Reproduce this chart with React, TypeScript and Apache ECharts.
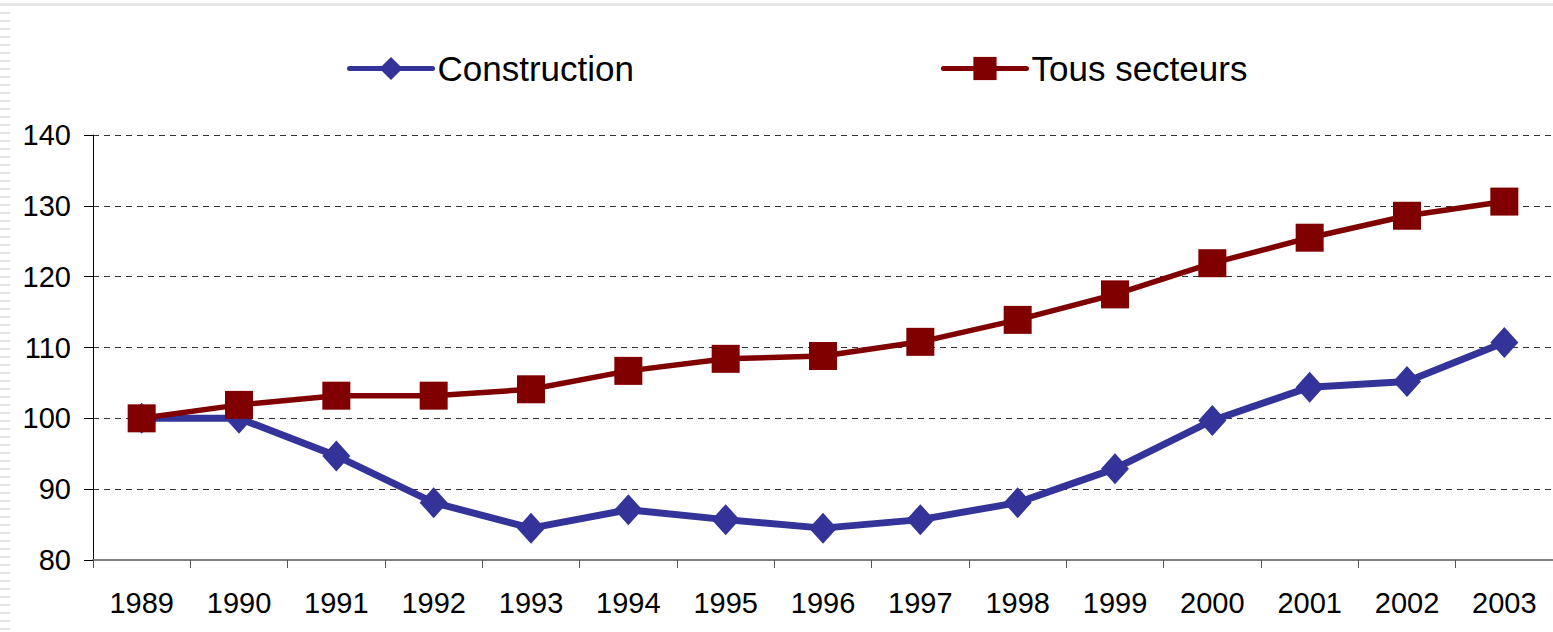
import React, { useEffect, useRef } from "react";
import * as echarts from "echarts";

const years = ["1989", "1990", "1991", "1992", "1993", "1994", "1995", "1996", "1997", "1998", "1999", "2000", "2001", "2002", "2003"];
const construction = [100, 100, 94.7, 88.1, 84.5, 87.1, 85.7, 84.5, 85.7, 88.1, 92.9, 99.7, 104.4, 105.2, 110.7];
const tousSecteurs = [100, 101.9, 103.2, 103.2, 104.1, 106.7, 108.4, 108.8, 110.8, 113.9, 117.5, 121.9, 125.5, 128.6, 130.6];
const seriesNames = ["Construction", "Tous secteurs"];

export default function App() {
  const ref = useRef<HTMLDivElement>(null);
  useEffect(() => {
    document.body.style.margin = "0";
    const chart = echarts.init(ref.current!, null, { renderer: "svg" });
    const stripes: any[] = [];
    for (let y = 12; y < 632; y += 8) {
      stripes.push({
        type: "rect",
        shape: { x: 0, y, width: 10, height: 2 },
        style: { fill: "#e4e4e4" },
        silent: true,
      });
    }
    const font = "Liberation Sans, Arial, sans-serif";
    chart.setOption({
      animation: false,
      backgroundColor: "#ffffff",
      textStyle: { fontFamily: font },
      graphic: [
        { type: "rect", shape: { x: 0, y: 3, width: 1553, height: 3 }, style: { fill: "#e6e6e6" }, silent: true },
        ...stripes,
      ],
      legend: {
        left: 342,
        top: 46,
        itemWidth: 83,
        itemHeight: 29,
        itemGap: 307,
        lineStyle: { width: 5, cap: "round" },
        textStyle: { fontSize: 35, color: "#000", fontFamily: font },
        data: seriesNames,
      },
      grid: { left: 93, right: 0, top: 135, bottom: 72 },
      xAxis: {
        type: "category",
        data: years,
        boundaryGap: true,
        axisLine: { show: true, lineStyle: { color: "#808080", width: 2 } },
        axisTick: { show: true, length: 8, lineStyle: { color: "#555", width: 1 } },
        axisLabel: { fontSize: 29, color: "#000", margin: 28, fontFamily: font },
        splitLine: { show: false },
      },
      yAxis: {
        type: "value",
        min: 80,
        max: 140,
        interval: 10,
        axisLine: { show: true, lineStyle: { color: "#000", width: 1 } },
        axisTick: { show: true, length: 9, lineStyle: { color: "#000", width: 1 } },
        axisLabel: { fontSize: 29, color: "#000", margin: 22, fontFamily: font },
        splitLine: { show: true, lineStyle: { color: "#333", width: 1, type: [6, 5] } },
      },
      series: [
        {
          name: seriesNames[0],
          type: "line",
          data: construction,
          symbol: "diamond",
          symbolSize: [28, 31],
          lineStyle: { color: "#333399", width: 7 },
          itemStyle: { color: "#333399" },
          z: 3,
        },
        {
          name: seriesNames[1],
          type: "line",
          data: tousSecteurs,
          symbol: "rect",
          symbolSize: [28, 28],
          lineStyle: { color: "#800000", width: 5.5 },
          itemStyle: { color: "#800000" },
          z: 4,
        },
      ],
    });
    return () => chart.dispose();
  }, []);
  return <div ref={ref} style={{ width: 1553, height: 632 }} />;
}
